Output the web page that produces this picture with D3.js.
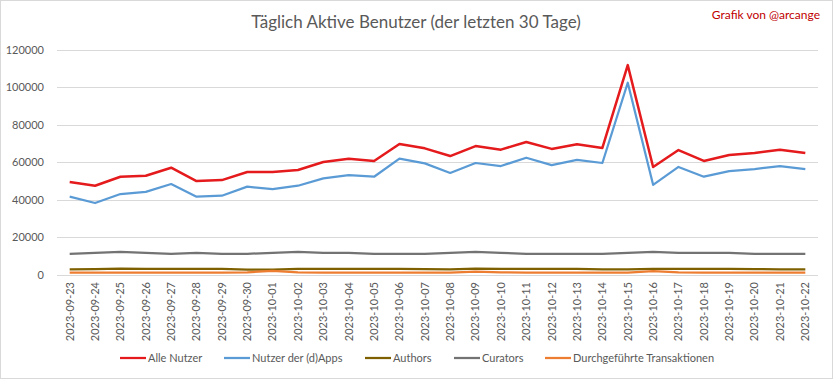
<!DOCTYPE html>
<html>
<head>
<meta charset="utf-8">
<script src="https://cdn.jsdelivr.net/npm/d3@7"></script>
<style>
  body { margin: 0; background: #fff; }
  svg text { font-family: Lato, "Open Sans", sans-serif; }
</style>
</head>
<body>
<div id="chart"></div>
<script>
// data
const dates = ['2023-09-23','2023-09-24','2023-09-25','2023-09-26','2023-09-27','2023-09-28','2023-09-29','2023-09-30',
  '2023-10-01','2023-10-02','2023-10-03','2023-10-04','2023-10-05','2023-10-06','2023-10-07','2023-10-08','2023-10-09',
  '2023-10-10','2023-10-11','2023-10-12','2023-10-13','2023-10-14','2023-10-15','2023-10-16','2023-10-17','2023-10-18',
  '2023-10-19','2023-10-20','2023-10-21','2023-10-22'];

const alleNutzer = [49500, 47500, 52300, 52800, 57100, 50000, 50500, 54800, 54800, 55900, 60100, 61900, 60700, 69700,
  67400, 63300, 68600, 66700, 70800, 67100, 69600, 67600, 111700, 57500, 66500, 60700, 63900, 64900, 66700, 64900];
const dAppsNutzer = [41700, 38300, 43100, 44200, 48400, 41700, 42200, 47000, 45700, 47500, 51400, 53200, 52300, 61900,
  59400, 54300, 59600, 58000, 62400, 58500, 61300, 59600, 102300, 48000, 57500, 52300, 55300, 56400, 58000, 56400];
const authors = [3000, 3100, 3400, 3300, 3300, 3300, 3200, 2900, 2800, 3200, 3300, 3300, 3200, 3300,
  3100, 3000, 3400, 3200, 3200, 3200, 3200, 3000, 3000, 3300, 3200, 3200, 3200, 3100, 3000, 3000];
const curators = [11300, 11800, 12300, 11800, 11300, 11800, 11300, 11300, 11800, 12300, 11800, 11800, 11300, 11300,
  11300, 11800, 12300, 11800, 11300, 11300, 11300, 11300, 11800, 12300, 11800, 11800, 11800, 11300, 11300, 11300];
const transaktionen = [1300, 1300, 1300, 1300, 1300, 1300, 1300, 1400, 2200, 1400, 1300, 1300, 1300, 1300,
  1300, 1300, 1800, 1400, 1300, 1300, 1300, 1300, 1300, 2000, 1400, 1300, 1300, 1300, 1300, 1300];

const yTicks = [0, 20000, 40000, 60000, 80000, 100000, 120000];

const series = [
  { name: 'Alle Nutzer', values: alleNutzer, color: '#e41a1c', width: 2.5 },
  { name: 'Nutzer der (d)Apps', values: dAppsNutzer, color: '#5b9bd5', width: 2.25 },
  { name: 'Authors', values: authors, color: '#7f6000', width: 2.25 },
  { name: 'Curators', values: curators, color: '#737373', width: 2.25 },
  { name: 'Durchgeführte Transaktionen', values: transaktionen, color: '#ed7d31', width: 2.25 }
];

const width = 833, height = 379;
const margin = { top: 49.5, right: 15, bottom: 104, left: 57 };

const svg = d3.select('#chart').append('svg')
  .attr('width', width)
  .attr('height', height);

svg.append('rect')
  .attr('x', 0.5).attr('y', 0.5)
  .attr('width', width - 1).attr('height', height - 1)
  .attr('fill', '#fff')
  .attr('stroke', '#d9d9d9');

const x = d3.scaleBand()
  .domain(dates)
  .range([margin.left, width - margin.right]);

const y = d3.scaleLinear()
  .domain([0, 120000])
  .range([height - margin.bottom, margin.top]);

// gridlines
svg.append('g')
  .selectAll('line')
  .data(yTicks)
  .join('line')
    .attr('x1', margin.left)
    .attr('x2', width - margin.right)
    .attr('y1', d => Math.round(y(d)) + 0.5)
    .attr('y2', d => Math.round(y(d)) + 0.5)
    .attr('stroke', '#d9d9d9')
    .attr('stroke-width', 1);

// y axis labels
const yAxis = svg.append('g')
  .attr('transform', `translate(${margin.left - 10},0)`)
  .call(d3.axisLeft(y).tickValues(yTicks).tickSize(0).tickFormat(d3.format('d')));
yAxis.select('.domain').remove();
yAxis.selectAll('text')
  .attr('fill', '#595959')
  .style('font-size', '11px');

// x axis labels
const xAxis = svg.append('g')
  .attr('transform', `translate(0,${height - margin.bottom})`)
  .call(d3.axisBottom(x).tickSize(0));
xAxis.select('.domain').remove();
xAxis.selectAll('text')
  .attr('fill', '#595959')
  .style('font-size', '11px')
  .attr('text-anchor', 'end')
  .attr('transform', 'rotate(-90)')
  .attr('x', -7)
  .attr('y', 0)
  .attr('dy', '0.35em');

const line = d3.line()
  .x((d, i) => x(dates[i]) + x.bandwidth() / 2)
  .y(d => y(d));

svg.append('g')
  .selectAll('path')
  .data(series)
  .join('path')
    .attr('d', d => line(d.values))
    .attr('fill', 'none')
    .attr('stroke', d => d.color)
    .attr('stroke-width', d => d.width)
    .attr('stroke-linejoin', 'round');

// title
svg.append('text')
  .attr('x', 416)
  .attr('y', 28)
  .attr('text-anchor', 'middle')
  .attr('fill', '#595959')
  .style('font-size', '17px')
  .text('Täglich Aktive Benutzer (der letzten 30 Tage)');

svg.append('text')
  .attr('x', 820)
  .attr('y', 19)
  .attr('text-anchor', 'end')
  .attr('fill', '#c00000')
  .style('font-size', '12px')
  .text('Grafik von @arcange');

// legend
const legendX = [120, 224, 365, 454, 545];
const legend = svg.append('g')
  .selectAll('g')
  .data(series)
  .join('g')
    .attr('transform', (d, i) => `translate(${legendX[i]},358)`);
legend.append('line')
  .attr('x1', 0).attr('x2', 26)
  .attr('stroke', d => d.color)
  .attr('stroke-width', 2.25);
legend.append('text')
  .attr('x', 28)
  .attr('dy', '0.35em')
  .attr('fill', '#595959')
  .style('font-size', '11px')
  .text(d => d.name);
</script>
</body>
</html>
